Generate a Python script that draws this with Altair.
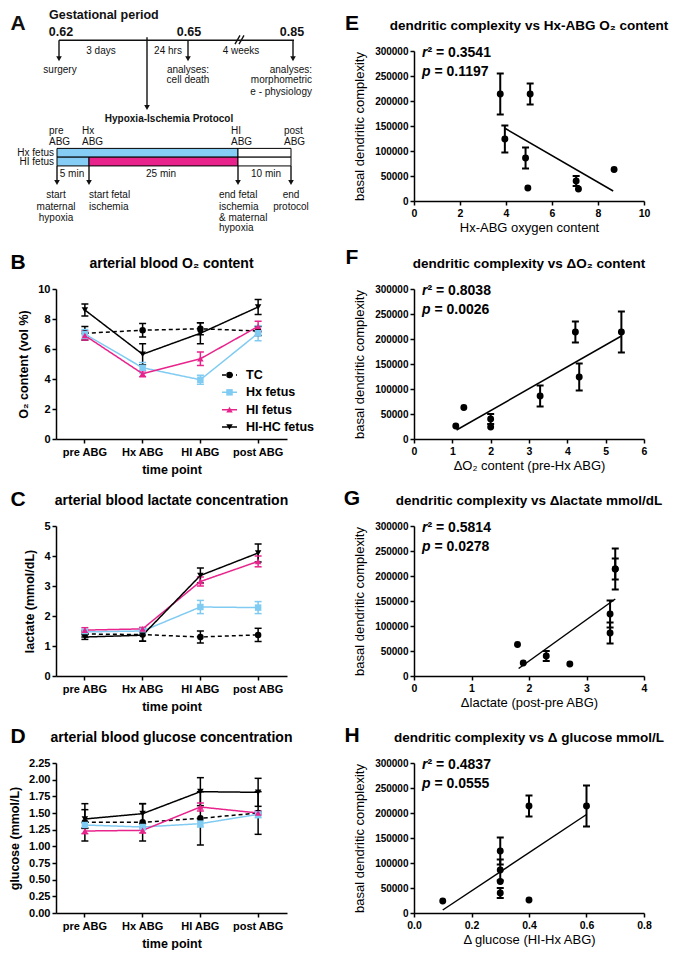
import altair as alt
import pandas as pd

FONT = "Liberation Sans"
BLUE = "#80cbf2"
PINK = "#e8238b"

# ---------------- time-course data (panels B-D) ----------------
times = ["pre ABG", "Hx ABG", "HI ABG", "post ABG"]
series = ["TC", "Hx fetus", "HI fetus", "HI-HC fetus"]

o2_tc = [7.05, 7.25, 7.35, 7.2]
o2_tc_err = [0.45, 0.45, 0.4, 0.3]
o2_hx = [7.0, 4.75, 3.95, 7.05]
o2_hx_err = [0.3, 0.35, 0.3, 0.5]
o2_hi = [6.9, 4.35, 5.35, 7.5]
o2_hi_err = [0.3, 0.2, 0.45, 0.35]
o2_hihc = [8.6, 5.65, 7.05, 8.8]
o2_hihc_err = [0.4, 0.7, 0.7, 0.5]

lac_tc = [1.4, 1.38, 1.3, 1.37]
lac_tc_err = [0.1, 0.22, 0.2, 0.22]
lac_hx = [1.47, 1.5, 2.3, 2.28]
lac_hx_err = [0.08, 0.08, 0.22, 0.2]
lac_hi = [1.53, 1.57, 3.15, 3.82]
lac_hi_err = [0.08, 0.05, 0.15, 0.18]
lac_hihc = [1.3, 1.36, 3.35, 4.1]
lac_hihc_err = [0.08, 0.2, 0.25, 0.3]

glu_tc = [1.36, 1.36, 1.42, 1.5]
glu_tc_err = [0.28, 0.28, 0.4, 0.32]
glu_hx = [1.32, 1.29, 1.34, 1.48]
glu_hx_err = [0.04, 0.04, 0.05, 0.05]
glu_hi = [1.23, 1.24, 1.59, 1.5]
glu_hi_err = [0.04, 0.04, 0.06, 0.03]
glu_hihc = [1.41, 1.49, 1.82, 1.81]
glu_hihc_err = [0.14, 0.15, 0.21, 0.21]

# ---------------- dendritic complexity data (panels E-H) ----------------
complexity = [214000, 214000, 124000, 86000, 63000, 40000, 26000, 24000]
complexity_err = [41000, 21000, 27000, 21000, 0, 10000, 0, 0]
hx_o2 = [3.75, 5.05, 3.95, 4.85, 8.7, 7.05, 4.95, 7.15]
delta_o2 = [5.41, 4.21, 4.31, 3.29, 1.3, 2.0, 1.09, 2.0]
delta_lac = [3.5, 3.5, 3.41, 3.41, 1.8, 2.3, 1.9, 2.71]
delta_glu = [0.6, 0.4, 0.3, 0.3, 0.3, 0.3, 0.4, 0.1]

fit_e_x = [3.97, 8.66]
fit_e_y = [145000, 20000]
fit_f_x = [1.11, 5.41]
fit_f_y = [18000, 206000]
fit_g_x = [1.82, 3.5]
fit_g_y = [15000, 154000]
fit_h_x = [0.1, 0.6]
fit_h_y = [6000, 197000]

r2_values = ["0.3541", "0.8038", "0.5814", "0.4837"]
p_values = ["0.1197", "0.0026", "0.0278", "0.0555"]

# ---------------- schematic (panel A), in schematic units ----------------
diag_c_text = ["3 days", "24 hrs", "4 weeks", "surgery", "analyses:", "cell death",
               "5 min", "25 min", "10 min", "start", "maternal", "hypoxia", "end", "protocol"]
diag_c_x = [97, 164, 237, 56, 184, 184, 68, 157, 262, 52, 52, 52, 287, 287]
diag_c_y = [43, 43, 43, 63, 62, 73, 169, 169, 169, 191, 203, 214, 191, 203]

diag_l_text = ["pre", "ABG", "Hx", "ABG", "HI", "ABG", "post", "ABG",
               "start fetal", "ischemia", "end fetal", "ischemia", "& maternal", "hypoxia"]
diag_l_x = [45, 45, 78, 78, 227, 227, 280, 280, 85, 85, 215, 215, 215, 215]
diag_l_y = [125, 136, 125, 136, 125, 136, 125, 136, 191, 203, 191, 203, 214, 225]

diag_r_text = ["analyses:", "morphometric", "e - physiology", "Hx fetus", "HI fetus"]
diag_r_x = [308, 308, 308, 50, 50]
diag_r_y = [63, 73, 85, 147.5, 157]

diag_num_text = ["0.62", "0.65", "0.85"]
diag_num_x = [57, 185, 288]
diag_num_y = [23, 23, 23]

diag_head_text = ["Gestational period"]
diag_head_x = [45]
diag_head_y = [6]

diag_proto_text = ["Hypoxia-Ischemia Protocol"]
diag_proto_x = [165]
diag_proto_y = [113]

diag_rule_x = [55, 55, 143, 184, 289, 53, 85, 234, 287, 231, 235]
diag_rule_y = [32, 32, 29, 32, 32, 161, 161, 161, 161, 36, 36]
diag_rule_x2 = [290, 55, 143, 184, 289, 53, 85, 234, 287, 236, 240]
diag_rule_y2 = [32, 50, 100, 50, 50, 177, 177, 177, 177, 27, 27]

diag_head_xs = [55, 143, 184, 289, 53, 85, 234, 287]
diag_head_ys = [51, 101, 51, 51, 178, 178, 178, 178]

diag_bar_x = [53, 234, 53, 85, 234]
diag_bar_x2 = [234, 287, 85, 234, 287]
diag_bar_y = [143, 143, 152, 152, 152]
diag_bar_y2 = [152, 152, 161, 161, 161]
diag_bar_phase = ["hypoxia", "recovery", "hypoxia", "ischemia", "recovery"]

# ---------------- layout constants ----------------
WL = 231
WR = 230
H = 150

color_scale = alt.Scale(domain=series, range=["#000000", BLUE, PINK, "#000000"])
shape_scale = alt.Scale(domain=series, range=["circle", "square", "triangle-up", "triangle-down"])
dash_scale = alt.Scale(domain=series, range=[[4, 3], [1, 0], [1, 0], [1, 0]])


def letter_title(letter, title, width, lx, ly, ty, tsize):
    df = pd.DataFrame({"letter": [letter], "title": [title]})
    let = alt.Chart(df).mark_text(font=FONT, fontSize=21, fontWeight="bold", align="center",
                                  baseline="middle", color="black").encode(
        x=alt.value(lx), y=alt.value(ly), text="letter:N")
    tit = alt.Chart(df).mark_text(font=FONT, fontSize=tsize, fontWeight="bold", align="center",
                                  baseline="middle", color="black").encode(
        x=alt.value(width / 2), y=alt.value(ty), text="title:N")
    return [let, tit]


def left_panel(vals, errs, letter, title, ytitle, ymax, yticks, yfmt, with_legend=False):
    rows = []
    for s, vs, es in zip(series, vals, errs):
        for i, (t, v, e) in enumerate(zip(times, vs, es)):
            rows.append({"series": s, "time": t, "ti": i, "value": v,
                         "lo": round(v - e, 4), "hi": round(v + e, 4)})
    df = pd.DataFrame(rows)
    base = alt.Chart(df)
    xaxis = alt.Axis(title="time point", labelAngle=0, labelFontSize=11, labelFontWeight="bold",
                     titleFontSize=12.5, titleFontWeight="bold", labelPadding=3, titlePadding=6)
    x = alt.X("time:N", sort=times, axis=xaxis)
    ys = alt.Scale(domain=[0, ymax], nice=False, zero=False)
    ya = alt.Axis(title=ytitle, values=yticks, format=yfmt, labelFontSize=11, labelFontWeight="bold",
                  titleFontSize=12.5, titleFontWeight="bold", titlePadding=7, labelPadding=2)
    color = alt.Color("series:N", scale=color_scale, legend=None)
    shape = alt.Shape("series:N", scale=shape_scale, legend=None)
    dash = alt.StrokeDash("series:N", scale=dash_scale, legend=None)

    err = base.mark_rule(strokeWidth=1.5).encode(
        x=x, y=alt.Y("lo:Q", scale=ys, axis=ya), y2="hi:Q", color=color)
    caps = base.transform_fold(["lo", "hi"], as_=["end", "cap"]).mark_tick(
        orient="horizontal", size=7, thickness=1.5, opacity=1).encode(
        x=x, y=alt.Y("cap:Q", scale=ys, axis=ya), color=color)
    lines = base.mark_line(strokeWidth=1.5).encode(
        x=x, y=alt.Y("value:Q", scale=ys, axis=ya), color=color, strokeDash=dash,
        order=alt.Order("ti:Q"))
    pts = base.mark_point(filled=True, size=42, opacity=1).encode(
        x=x, y=alt.Y("value:Q", scale=ys, axis=ya), color=color, shape=shape)

    main = alt.layer(err, caps, lines, pts,
                     *letter_title(letter, title, WL, -38, -26, -25, 14))
    if with_legend:
        leg = pd.DataFrame({"series": series, "row": [0, 1, 2, 3]})
        ly = alt.Y("row:O", scale=alt.Scale(type="point", domain=[0, 1, 2, 3],
                                            range=[86, 138], padding=0), axis=None)
        lrule = alt.Chart(leg).mark_rule(strokeWidth=1.5).encode(
            x=alt.value(166), x2=alt.value(181), y=ly, color=color, strokeDash=dash)
        lpt = alt.Chart(leg).mark_point(filled=True, size=42, opacity=1).encode(
            x=alt.value(173.5), y=ly, color=color, shape=shape)
        ltxt = alt.Chart(leg).mark_text(font=FONT, fontSize=12.5, fontWeight="bold", align="left",
                                        baseline="middle", color="black").encode(
            x=alt.value(190), y=ly, text="series:N")
        main = alt.layer(main, alt.layer(lrule, lpt, ltxt)).resolve_scale(y="independent")
    return main.properties(width=WL, height=H)


def right_panel(xs, letter, title, xtitle, xmax, xticks, xfmt, fx, fy, r2, p, ly=-27):
    df = pd.DataFrame({"x": xs, "y": complexity, "err": complexity_err})
    df["lo"] = df["y"] - df["err"]
    df["hi"] = df["y"] + df["err"]
    dfe = df[df["err"] > 0]
    xa = alt.Axis(title=xtitle, values=xticks, format=xfmt, labelFontSize=10.5, labelFontWeight="bold",
                  titleFontSize=13, titleFontWeight="normal", labelFlush=False, labelOverlap=False,
                  labelPadding=3, titlePadding=3)
    xs_ = alt.Scale(domain=[0, xmax], nice=False, zero=False)
    ys = alt.Scale(domain=[0, 300000], nice=False, zero=False)
    ya = alt.Axis(title="basal dendritic complexity", values=list(range(0, 300001, 50000)), format="d",
                  labelFontSize=10, labelFontWeight="bold", titleFontSize=13,
                  titleFontWeight="normal", titlePadding=8, labelPadding=2)
    x = alt.X("x:Q", scale=xs_, axis=xa)

    err = alt.Chart(dfe).mark_rule(strokeWidth=2, color="black").encode(
        x=x, y=alt.Y("lo:Q", scale=ys, axis=ya), y2="hi:Q")
    caps = alt.Chart(dfe).transform_fold(["lo", "hi"], as_=["end", "cap"]).mark_tick(
        orient="horizontal", size=7, thickness=2, color="black", opacity=1).encode(
        x=x, y=alt.Y("cap:Q", scale=ys, axis=ya))
    fit = alt.Chart(pd.DataFrame({"x": fx, "y": fy})).mark_line(color="black", strokeWidth=1.5).encode(
        x=x, y=alt.Y("y:Q", scale=ys, axis=ya))
    pts = alt.Chart(df).mark_circle(size=48, color="black", opacity=1).encode(
        x=x, y=alt.Y("y:Q", scale=ys, axis=ya))

    sdf = pd.DataFrame({"r": ["r"], "rv": ["\u00b2 = " + r2], "p": ["p"], "pv": ["= " + p]})
    st = dict(font=FONT, fontSize=14, fontWeight="bold", align="left", baseline="middle", color="black")
    t1 = alt.Chart(sdf).mark_text(fontStyle="italic", **st).encode(x=alt.value(8), y=alt.value(2), text="r:N")
    t2 = alt.Chart(sdf).mark_text(**st).encode(x=alt.value(13.5), y=alt.value(2), text="rv:N")
    t3 = alt.Chart(sdf).mark_text(fontStyle="italic", **st).encode(x=alt.value(8), y=alt.value(21), text="p:N")
    t4 = alt.Chart(sdf).mark_text(**st).encode(x=alt.value(20.5), y=alt.value(21), text="pv:N")

    return alt.layer(err, caps, fit, pts, t1, t2, t3, t4,
                     *letter_title(letter, title, WR, -62, ly, -25, 13.5)).properties(width=WR, height=H)


def diagram():
    dx = alt.Scale(domain=[52, 283], nice=False, zero=False)
    dy = alt.Scale(domain=[43, 197], nice=False, zero=False, reverse=True)

    def X(f):
        return alt.X(f, scale=dx, axis=None)

    def Y(f):
        return alt.Y(f, scale=dy, axis=None)

    bars = alt.Chart(pd.DataFrame({"x": diag_bar_x, "x2": diag_bar_x2, "y": diag_bar_y,
                                   "y2": diag_bar_y2, "phase": diag_bar_phase})).mark_rect(
        stroke="black", strokeWidth=1).encode(
        x=X("x:Q"), x2="x2:Q", y=Y("y:Q"), y2="y2:Q",
        fill=alt.Fill("phase:N", scale=alt.Scale(domain=["hypoxia", "ischemia", "recovery"],
                                                  range=["#85cdf4", PINK, "#ffffff"]), legend=None))
    rules = alt.Chart(pd.DataFrame({"x": diag_rule_x, "y": diag_rule_y, "x2": diag_rule_x2,
                                    "y2": diag_rule_y2})).mark_rule(strokeWidth=1.4, color="#111111").encode(
        x=X("x:Q"), y=Y("y:Q"), x2="x2:Q", y2="y2:Q")
    heads = alt.Chart(pd.DataFrame({"x": diag_head_xs, "y": diag_head_ys})).mark_point(
        shape="triangle-down", filled=True, size=32, color="#111111", opacity=1).encode(
        x=X("x:Q"), y=Y("y:Q"))

    def txt(texts, xs, ys, align, size, weight):
        return alt.Chart(pd.DataFrame({"t": texts, "x": xs, "y": ys})).mark_text(
            font=FONT, fontSize=size, fontWeight=weight, align=align, baseline="middle",
            color="#111111").encode(x=X("x:Q"), y=Y("y:Q"), text="t:N")

    letter = txt(["A"], [14], [15], "center", 21, "bold")
    layers = [bars, rules, heads,
              txt(diag_c_text, diag_c_x, diag_c_y, "center", 10, "normal"),
              txt(diag_l_text, diag_l_x, diag_l_y, "left", 10, "normal"),
              txt(diag_r_text, diag_r_x, diag_r_y, "right", 10, "normal"),
              txt(diag_num_text, diag_num_x, diag_num_y, "center", 12.5, "bold"),
              txt(diag_head_text, diag_head_x, diag_head_y, "left", 12.5, "bold"),
              txt(diag_proto_text, diag_proto_x, diag_proto_y, "center", 10, "bold"),
              letter]
    return alt.layer(*layers).properties(width=WL, height=H)


panel_a = diagram()
panel_b = left_panel([o2_tc, o2_hx, o2_hi, o2_hihc], [o2_tc_err, o2_hx_err, o2_hi_err, o2_hihc_err],
                     "B", "arterial blood O\u2082 content", "O\u2082 content (vol %)", 10,
                     [0, 2, 4, 6, 8, 10], "d", with_legend=True)
panel_c = left_panel([lac_tc, lac_hx, lac_hi, lac_hihc], [lac_tc_err, lac_hx_err, lac_hi_err, lac_hihc_err],
                     "C", "arterial blood lactate concentration", "lactate (mmol/dL)", 5,
                     [0, 1, 2, 3, 4, 5], "d")
panel_d = left_panel([glu_tc, glu_hx, glu_hi, glu_hihc], [glu_tc_err, glu_hx_err, glu_hi_err, glu_hihc_err],
                     "D", "arterial blood glucose concentration", "glucose (mmol/L)", 2.25,
                     [0, 0.25, 0.5, 0.75, 1.0, 1.25, 1.5, 1.75, 2.0, 2.25], ".2f")

panel_e = right_panel(hx_o2, "E", "dendritic complexity vs Hx-ABG O\u2082 content", "Hx-ABG oxygen content",
                      10, [0, 2, 4, 6, 8, 10], "d", fit_e_x, fit_e_y, r2_values[0], p_values[0])
panel_f = right_panel(delta_o2, "F", "dendritic complexity vs \u0394O\u2082 content",
                      "\u0394O\u2082 content (pre-Hx ABG)", 6, [0, 1, 2, 3, 4, 5, 6], "d",
                      fit_f_x, fit_f_y, r2_values[1], p_values[1], ly=-31)
panel_g = right_panel(delta_lac, "G", "dendritic complexity vs \u0394lactate mmol/dL",
                      "\u0394lactate (post-pre ABG)", 4, [0, 1, 2, 3, 4], "d",
                      fit_g_x, fit_g_y, r2_values[2], p_values[2])
panel_h = right_panel(delta_glu, "H", "dendritic complexity vs \u0394 glucose mmol/L",
                      "\u0394 glucose (HI-Hx ABG)", 0.8, [0, 0.2, 0.4, 0.6, 0.8], ".1f",
                      fit_h_x, fit_h_y, r2_values[3], p_values[3])

chart = alt.concat(panel_a, panel_e, panel_b, panel_f, panel_c, panel_g, panel_d, panel_h,
                   columns=2, spacing=alt.RowColnumber(row=12, column=28),
                   align="each", bounds="full").properties(
    padding={"left": 0, "top": 0, "right": 0, "bottom": 0}
).configure_view(stroke=None).configure_axis(
    domainColor="black", domainWidth=1.5, tickColor="black", tickWidth=1.5, tickSize=4,
    labelColor="black", titleColor="black", labelFont=FONT, titleFont=FONT, grid=False
).configure_text(font=FONT)

chart.save("out.html", embed_options={"renderer": "svg", "actions": False})
